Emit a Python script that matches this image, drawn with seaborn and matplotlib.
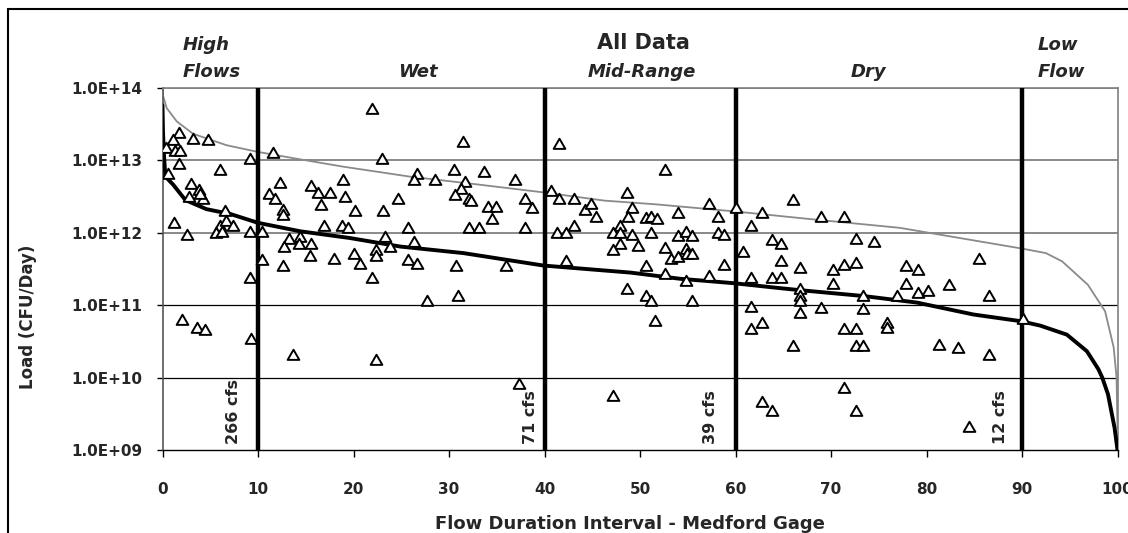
import numpy as np
import pandas as pd
import matplotlib
matplotlib.use("Agg")
import matplotlib.pyplot as plt
import matplotlib.ticker as mticker
from matplotlib.transforms import blended_transform_factory
from matplotlib.patches import Rectangle
from matplotlib.markers import MarkerStyle
from matplotlib.path import Path
import seaborn as sns

# ---------------- data ----------------
# Observed loads: flow duration interval (%) and load (CFU/day)
obs_x = [21.9, 1.7, 1.1, 3.2, 4.8, 0.4, 1.3, 1.8, 1.7, 0.6, 6.0, 9.2, 11.6, 23.0,
         3.0, 3.8, 2.8, 4.2, 3.9, 12.3, 11.1, 11.8, 12.6, 12.6, 15.5, 16.3, 17.5,
         16.6, 18.9, 19.1, 20.2, 23.1, 24.7, 1.2, 2.6, 6.5, 6.0, 6.7, 7.4, 5.6,
         6.2, 9.2, 10.4, 13.2, 14.4, 14.3, 12.7, 15.5, 15.4, 16.9, 18.8, 19.4,
         10.4, 12.6, 18.0, 20.1, 20.7, 22.4, 22.4, 23.3, 23.8, 21.9, 25.7, 25.7,
         9.2, 2.0, 3.6, 4.4, 9.3, 13.7, 22.4,
         31.5, 41.5, 26.7, 26.3, 28.5, 30.5, 31.7, 31.3, 30.6, 32.1, 32.3, 33.7,
         36.9, 34.1, 34.9, 34.5, 38.0, 38.7, 32.1, 33.1, 38.0, 26.3, 26.7, 30.7,
         36.0, 27.7, 30.9, 37.3, 40.7, 41.5, 43.1, 44.2, 44.9, 45.4, 48.6, 49.2,
         48.7, 47.9, 47.2, 47.9, 49.2, 47.9, 47.2, 49.8, 50.6, 51.1, 51.1, 41.3,
         42.2, 43.1, 42.3, 50.6, 48.6, 50.6, 51.6, 47.2,
         52.6, 51.8, 54.0, 57.2, 58.2, 60.0, 54.0, 54.8, 55.4, 58.2, 58.8, 52.6,
         53.2, 54.0, 54.8, 54.9, 55.4, 58.8, 52.6, 54.8, 57.2, 51.1, 55.4, 61.6,
         62.8, 66.0, 69.0, 71.4, 60.8, 63.8, 64.8, 64.8, 66.8, 70.2, 71.4, 72.6,
         72.6, 74.5, 61.6, 63.8, 64.8, 66.8, 66.8, 66.8, 70.2, 73.3, 76.9, 61.6,
         66.8, 69.0, 73.3, 61.6, 62.8, 66.0, 71.4, 72.6, 72.6, 73.4, 75.9, 75.9,
         62.8, 63.8, 71.4, 72.6,
         85.5, 77.9, 79.1, 77.9, 82.4, 79.1, 80.2, 86.5, 90.1, 81.3, 83.3, 86.5,
         84.5]
obs_load = [4.9e13, 2.3e13, 1.8e13, 1.9e13, 1.8e13, 1.4e13, 1.3e13, 1.3e13, 8.4e12,
            6.3e12, 7.0e12, 1.0e13, 1.2e13, 1.0e13, 4.5e12, 3.7e12, 3.0e12, 2.8e12,
            3.3e12, 4.7e12, 3.3e12, 2.8e12, 2.0e12, 1.7e12, 4.3e12, 3.4e12, 3.4e12,
            2.3e12, 5.2e12, 3.0e12, 1.9e12, 1.9e12, 2.8e12, 1.3e12, 8.9e11, 1.9e12,
            1.2e12, 1.4e12, 1.2e12, 9.6e11, 9.9e11, 1.0e12, 9.9e11, 8.0e11, 8.4e11,
            6.8e11, 6.1e11, 6.7e11, 4.6e11, 1.2e12, 1.2e12, 1.1e12, 4.1e11, 3.3e11,
            4.2e11, 4.9e11, 3.6e11, 5.5e11, 4.6e11, 8.4e11, 6.1e11, 2.3e11, 1.1e12,
            4.1e11, 2.3e11, 6.0e10, 4.6e10, 4.4e10, 3.3e10, 2.0e10, 1.7e10,
            1.7e13, 1.6e13, 6.3e12, 5.2e12, 5.2e12, 7.0e12, 4.8e12, 3.8e12, 3.2e12,
            2.8e12, 2.6e12, 6.6e12, 5.2e12, 2.2e12, 2.2e12, 1.5e12, 2.8e12, 2.1e12,
            1.1e12, 1.1e12, 1.1e12, 7.2e11, 3.6e11, 3.3e11, 3.3e11, 1.1e11, 1.3e11,
            7.8e9, 3.6e12, 2.8e12, 2.8e12, 2.0e12, 2.4e12, 1.6e12, 3.4e12, 2.1e12,
            1.6e12, 1.2e12, 9.6e11, 9.6e11, 8.9e11, 6.7e11, 5.6e11, 6.3e11, 1.55e12,
            1.6e12, 9.6e11, 9.6e11, 9.6e11, 1.2e12, 3.9e11, 3.3e11, 1.6e11, 1.3e11,
            5.8e10, 5.4e9,
            7.0e12, 1.5e12, 1.8e12, 2.4e12, 1.6e12, 2.1e12, 8.6e11, 9.9e11, 8.6e11,
            9.6e11, 8.9e11, 6.0e11, 4.2e11, 4.5e11, 5.8e11, 4.9e11, 4.9e11, 3.4e11,
            2.6e11, 2.1e11, 2.4e11, 1.1e11, 1.1e11, 1.2e12, 1.8e12, 2.7e12, 1.6e12,
            1.6e12, 5.2e11, 7.6e11, 6.7e11, 3.9e11, 3.1e11, 2.9e11, 3.4e11, 3.7e11,
            8.0e11, 7.2e11, 2.3e11, 2.3e11, 2.3e11, 1.6e11, 1.3e11, 1.1e11, 1.9e11,
            1.3e11, 1.3e11, 9.2e10, 7.6e10, 8.7e10, 8.4e10, 4.5e10, 5.4e10, 2.6e10,
            4.5e10, 4.5e10, 2.6e10, 2.6e10, 5.4e10, 4.6e10, 4.5e9, 3.3e9, 6.9e9,
            3.3e9,
            4.2e11, 3.3e11, 2.9e11, 1.9e11, 1.8e11, 1.4e11, 1.5e11, 1.3e11, 6.3e10,
            2.7e10, 2.5e10, 2.0e10, 2.0e9]

# Load duration curve (black) - geometric mean criterion
ldc_x = [0, 0.05, 0.15, 0.3, 1.1, 2.4, 4.6, 7.1, 10, 14.4, 19.6, 24.9, 31.5, 39.9,
         49, 54.2, 59.8, 64.8, 66.8, 73.4, 79, 84.9, 89.8, 91.9, 94.7, 96.8, 98.0,
         98.4, 99.0, 99.7, 100]
ldc_load = [5.7e13, 2.5e13, 1.2e13, 5.9e12, 4.6e12, 2.8e12, 2.1e12, 1.8e12, 1.36e12,
            1.04e12, 8.4e11, 6.4e11, 5.2e11, 3.5e11, 2.8e11, 2.3e11, 2.0e11, 1.7e11,
            1.6e11, 1.33e11, 1.08e11, 7.4e10, 6.0e10, 5.2e10, 3.9e10, 2.3e10, 1.3e10,
            1.0e10, 5.9e9, 2.0e9, 1.0e9]

# Load duration curve (gray) - single sample criterion
max_x = [0, 0.03, 0.44, 1.5, 3.2, 6.7, 9.9, 13.7, 18.9, 25.9, 32.4, 39.7, 46.3, 51.6,
         59.8, 68.5, 77.2, 85.4, 90.0, 92.5, 94.2, 96.9, 98.7, 99.6, 99.9, 100]
max_load = [1.0e14, 7.9e13, 5.2e13, 3.4e13, 2.3e13, 1.6e13, 1.3e13, 1.06e13, 8.1e12,
            5.9e12, 4.7e12, 3.6e12, 2.75e12, 2.45e12, 1.96e12, 1.5e12, 1.16e12, 7.6e11,
            6.0e11, 5.2e11, 4.0e11, 1.9e11, 8.2e10, 2.6e10, 1.0e10, 2.0e9]

# Flow zone boundaries
zone_bounds = [10, 40, 60, 90]
zone_flows = ["266 cfs", "71 cfs", "39 cfs", "12 cfs"]
zone_flow_x = [7.4, 38.5, 57.4, 87.8]

x_ticks = [0, 10, 20, 30, 40, 50, 60, 70, 80, 90, 100]
x_tick_labels = ["0", "10", "20", "30", "40", "50", "60", "70", "80", "90", "100"]
y_ticks = [1e9, 1e10, 1e11, 1e12, 1e13, 1e14]
y_tick_labels = ["1.0E+09", "1.0E+10", "1.0E+11", "1.0E+12", "1.0E+13", "1.0E+14"]

# ---------------- plot ----------------
sns.set_theme(style="white")
plt.rcParams["font.family"] = ["DejaVu Sans"]

fig = plt.figure(figsize=(11.28, 5.33), dpi=100)
ax = fig.add_axes([162.5 / 1128, 83 / 533, 955 / 1128, 362.5 / 533])

ax.set_yscale("log")
ax.set_xlim(0, 100)
ax.set_ylim(1e9, 1e14)

# horizontal grid lines
ax.set_yticks(y_ticks)
ax.set_yticklabels(y_tick_labels)
ax.yaxis.set_minor_locator(mticker.NullLocator())
ax.set_xticks(x_ticks)
ax.set_xticklabels(x_tick_labels)
ax.yaxis.grid(True)
ax.xaxis.grid(False)
grid_cols = ["#000000", "#000000", "#000000", "#808080", "#808080", "#808080"]
grid_lw = [0.0, 0.9, 0.9, 1.3, 1.3, 1.3]
for gl, c, w in zip(ax.get_ygridlines(), grid_cols, grid_lw):
    gl.set_color(c)
    gl.set_linewidth(w)
    gl.set_zorder(0.5)
ax.set_axisbelow(True)

df_max = pd.DataFrame({"x": max_x, "load": max_load})
df_ldc = pd.DataFrame({"x": ldc_x, "load": ldc_load})
df_obs = pd.DataFrame({"x": obs_x, "load": obs_load})

sns.lineplot(data=df_max, x="x", y="load", ax=ax, color="#8a8a8a", linewidth=1.3,
             sort=False, estimator=None, zorder=2)
sns.lineplot(data=df_ldc, x="x", y="load", ax=ax, color="black", linewidth=2.8,
             sort=False, estimator=None, zorder=3)

for xb in zone_bounds:
    ax.axvline(xb, color="black", linewidth=3.2, zorder=4)

tri_path = Path([(-1, -0.577), (1, -0.577), (0, 1.155), (-1, -0.577)], closed=True)
tri = MarkerStyle(tri_path)
sns.scatterplot(data=df_obs, x="x", y="load", ax=ax, marker=tri, s=95,
                color="white", edgecolor="black", linewidth=1.4, zorder=5,
                legend=False)

# flow labels on boundaries
for xl, t in zip(zone_flow_x, zone_flows):
    ax.text(xl, 1.2e9, t, rotation=90, ha="center", va="bottom",
            fontsize=11.5, fontweight="bold", zorder=6)

# zone labels above plot
btr = blended_transform_factory(ax.transData, ax.transAxes)
yl1 = (450 - 50) / 362.5
yl2 = (450 - 77) / 362.5
zfont = dict(fontsize=13, fontweight="bold", fontstyle="italic", transform=btr,
             va="baseline", clip_on=False)
ax.text(2.15, yl1, "High", ha="left", **zfont)
ax.text(2.15, yl2, "Flows", ha="left", **zfont)
ax.text(26.75, yl2, "Wet", ha="center", **zfont)
ax.text(50.2, yl2, "Mid-Range", ha="center", **zfont)
ax.text(73.9, yl2, "Dry", ha="center", **zfont)
ax.text(91.6, yl1, "Low", ha="left", **zfont)
ax.text(91.6, yl2, "Flow", ha="left", **zfont)
ax.text(50.4, (450 - 49) / 362.5, "All Data", ha="center", va="baseline",
        fontsize=15, fontweight="bold", transform=btr, clip_on=False)

# axes styling
for side in ["top", "right", "left"]:
    ax.spines[side].set_color("#808080")
    ax.spines[side].set_linewidth(1.2)
ax.spines["left"].set_color("#555555")
ax.spines["bottom"].set_color("black")
ax.spines["bottom"].set_linewidth(1.0)

ax.tick_params(axis="y", which="major", direction="out", length=4.5, width=1,
               color="black", left=True, pad=10, labelsize=11)
ax.tick_params(axis="x", which="major", direction="out", length=5, width=1,
               color="black", bottom=True, pad=18, labelsize=11)
for lab in ax.get_xticklabels() + ax.get_yticklabels():
    lab.set_fontweight("bold")

ax.set_xlabel("Flow Duration Interval - Medford Gage", fontsize=13, fontweight="bold")
ax.xaxis.set_label_coords((630 - 162.5) / 955, -(524 - 450) / 362.5)
ax.xaxis.label.set_va("center")
ax.set_ylabel("Load (CFU/Day)", fontsize=12, fontweight="bold")
ax.yaxis.set_label_coords((28 - 162.5) / 955, (450 - 317) / 362.5)
ax.yaxis.label.set_va("center")

# outer figure border (chart area frame)
fig.patches.append(Rectangle((8 / 1128, -0.2), 1.2, 1 - 9 / 533 + 0.2,
                             transform=fig.transFigure, fill=False,
                             edgecolor="black", linewidth=1.5, zorder=0))

fig.savefig("out.png", dpi=100)
